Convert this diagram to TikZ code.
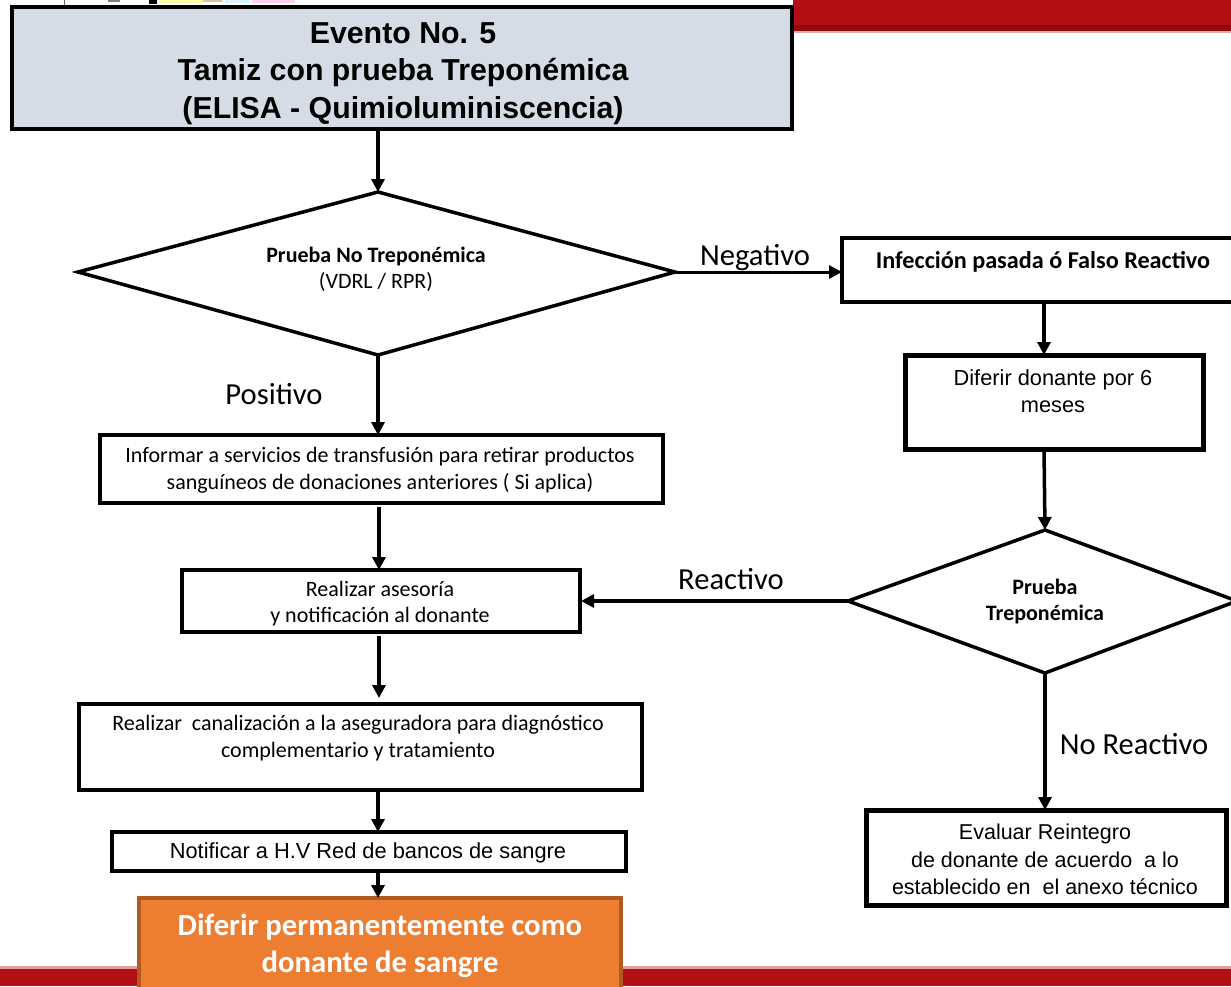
\documentclass[tikz,border=0pt]{standalone}
\usepackage{fontspec}
\setmainfont{Liberation Sans}
\newfontfamily\calb{Carlito}
\usetikzlibrary{arrows.meta,shapes.geometric}
\definecolor{barred}{HTML}{B20F14}
\definecolor{headfill}{HTML}{D6DCE5}
\definecolor{orangefill}{HTML}{ED7D31}
\definecolor{orangeline}{HTML}{AE5A21}
\tikzset{
 x=1pt,y=-1pt,
 boxn/.style={draw=black,line width=#1,fill=white,inner sep=0pt,outer sep=0pt,anchor=north west},
 boxn/.default=3.5pt,
 conn/.style={draw=black,line width=3.5pt,-{Triangle[length=13pt,width=13pt]}},
 lab/.style={font=\calb\fontsize{30.6}{36}\selectfont,inner sep=0pt,anchor=center},
 diam/.style={draw=black,line width=3.5pt,fill=white,line join=miter},
 txt/.style={align=center,inner sep=0pt},
}
\newcommand{\fs}[2]{\fontsize{#1}{#2}\selectfont}
\begin{document}
\begin{tikzpicture}
\useasboundingbox (0,0) rectangle (1231,986);
% bands
\fill[barred] (793,0) rectangle (1231,31);
\fill[barred!80!black] (793,25) rectangle (1231,31);
\fill[barred!35] (793,31) rectangle (1231,33);
\fill[barred!40] (0,966) rectangle (1231,969);
\fill[barred] (0,969) rectangle (1231,986);
% logo remnants
\fill[black!60] (64,0) rectangle (65,5);
\fill[black!50] (108,0) rectangle (120,1.5);
\fill[black] (149,0) rectangle (157,3.5);
\fill[yellow!35] (160,0) rectangle (203,2.5);
\fill[brown!50] (203,0) rectangle (222,1.5);
\fill[cyan!15] (225,0) rectangle (250,2.5);
\fill[magenta!18] (252,0) rectangle (295,2.5);
% top box
\node[boxn=4.5pt,fill=headfill,minimum width=780pt,minimum height=122pt] (top) at (12,7) {};
\node[txt,font=\bfseries\fs{30.3}{37.5}] (topt) at (403,73.5) {Evento No. 5\\Tamiz con prueba Treponémica\\(ELISA - Quimioluminiscencia)};
% diamonds
\path[diam] (78,272) coordinate (d1w) -- (378,192) coordinate (d1n) -- (675,272) coordinate (d1e) -- (378,355) coordinate (d1s) -- cycle;
\node[txt,font=\calb\fs{22}{26}] (d1t) at (376,269) {\textbf{Prueba No Treponémica}\\(VDRL / RPR)};
\path[diam] (848,601) coordinate (d2w) -- (1045,530) coordinate (d2n) -- (1237,601) coordinate (d2e) -- (1045,673) coordinate (d2s) -- cycle;
\node[txt,font=\calb\bfseries\fs{22}{26}] (d2t) at (1045,601) {Prueba\\Treponémica};
% right boxes
\node[boxn,minimum width=395pt,minimum height=64pt] (inf) at (842,238) {};
\node[txt,font=\calb\bfseries\fs{24.2}{28}] (inft) at (1043,262) {Infección pasada ó Falso Reactivo};
\node[boxn=5pt,minimum width=298pt,minimum height=94pt] (dif) at (905,355) {};
\node[txt,font=\fs{21.8}{27}] (dift) at (1053,391.5) {Diferir donante por 6\\meses};
\node[boxn=5pt,minimum width=360pt,minimum height=95pt] (eva) at (866,810) {};
\node[txt,font=\fs{21.5}{27.5}] (evat) at (1045,859.5) {Evaluar Reintegro\\de donante de acuerdo\ \ a lo\\establecido en\ \ el anexo técnico};
% left boxes
\node[boxn,minimum width=563pt,minimum height=68pt] (i) at (100,435) {};
\node[txt,font=\calb\fs{22}{27}] (it) at (380,470) {Informar a servicios de transfusión para retirar productos\\sanguíneos de donaciones anteriores ( Si aplica)};
\node[boxn=4pt,minimum width=398.5pt,minimum height=62pt] (r) at (181.5,570) {};
\node[txt,font=\calb\fs{22}{26}] (rt) at (380,604) {Realizar asesoría\\y notificación al donante};
\node[boxn,minimum width=563pt,minimum height=86pt] (c) at (79,704) {};
\node[txt,font=\calb\fs{22}{27}] (ct) at (358,738) {Realizar\ \ canalización a la aseguradora para diagnóstico\\complementario y tratamiento};
\node[boxn,minimum width=514pt,minimum height=39pt] (n) at (112,832) {};
\node[txt,font=\fs{21.8}{24}] (nt) at (368,853) {Notificar a H.V Red de bancos de sangre};
\node[draw=orangeline,line width=3.5pt,fill=orangefill,anchor=north west,inner sep=0pt,outer sep=0pt,minimum width=482pt,minimum height=100pt] (o) at (139,898) {};
\node[txt,text=white,font=\calb\bfseries\fs{30.7}{37}] (ot) at (380,945.5) {Diferir permanentemente como\\donante de sangre};
% connectors
\coordinate (xa) at (378,0);
\coordinate (xc) at (379,0);
\coordinate (xb) at (1044,0);
\draw[conn] (top.south -| d1n) -- (d1n);
\draw[conn] (d1s) -- (i.north -| d1s);
\draw[conn,shorten <=4pt] (i.south -| xc) -- (xc |- r.north);
\draw[conn,shorten <=4pt,shorten >=6pt] (r.south -| xc) -- (xc |- c.north);
\draw[conn] (c.south -| xa) -- (xa |- n.north);
\draw[conn] (n.south -| xa) -- (xa |- o.north);
\draw[conn,line width=3pt] (d1e) -- (inf.west |- d1e);
\draw[conn] (inf.south -| xb) -- (xb |- dif.north);
\draw[conn] (dif.south -| xb) -- (d2n);
\draw[conn,shorten >=1pt] (d2w) -- (r.east |- d2w);
\draw[conn,line width=4.5pt] (d2s) -- (d2s |- eva.north);
% labels
\node[lab] (l1) at (755,258) {Negativo};
\node[lab] (l2) at (274,394) {Positivo};
\node[lab] (l3) at (731,579) {Reactivo};
\node[lab] (l4) at (1134,744) {No Reactivo};
\end{tikzpicture}
\end{document}
